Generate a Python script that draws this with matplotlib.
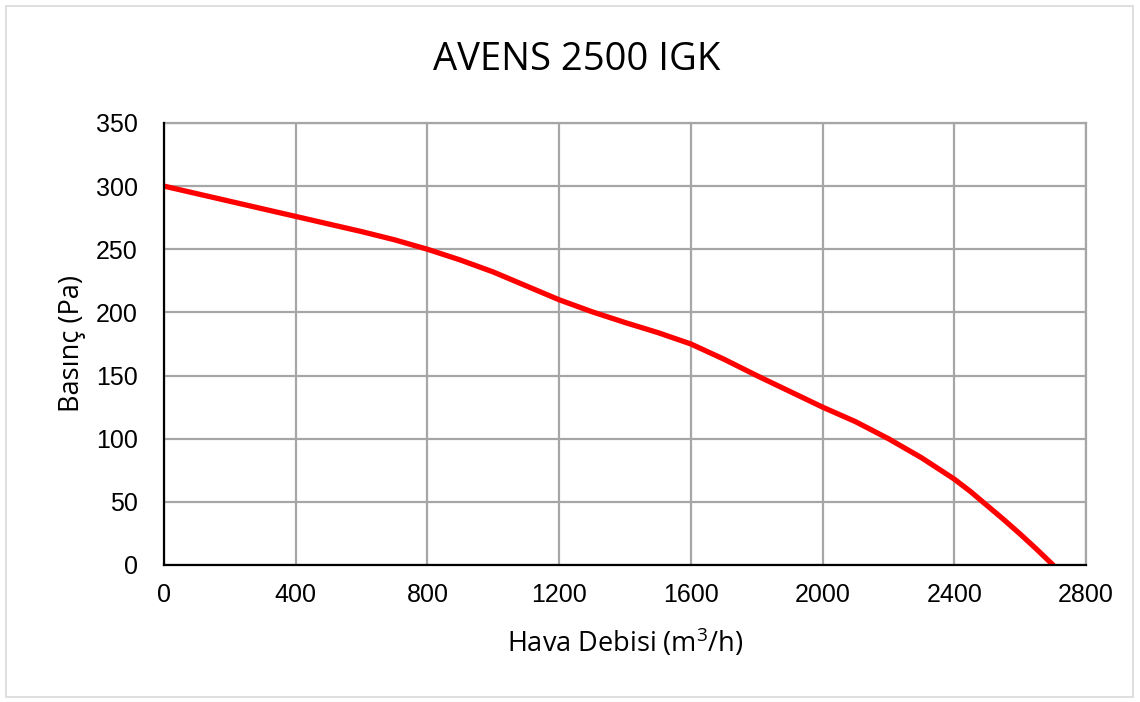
import matplotlib.pyplot as plt
from matplotlib.patches import Rectangle

# Fan curve
airflow = [0, 100, 200, 300, 400, 500, 600, 700, 800, 900, 1000, 1100, 1200,
           1300, 1400, 1500, 1600, 1700, 1800, 1900, 2000, 2100, 2200, 2300,
           2400, 2450, 2500, 2550, 2600, 2650, 2700]
pressure = [300, 294, 288, 282, 276, 270, 264, 257.5, 250, 241.5, 232, 221, 210,
            200.5, 192, 184, 175, 163, 150, 137.5, 125, 113.5, 100, 85, 68,
            58, 47, 36, 24.5, 12.5, 0]

x_ticks = [0, 400, 800, 1200, 1600, 2000, 2400, 2800]
y_ticks = [0, 50, 100, 150, 200, 250, 300, 350]

plt.rcParams['font.family'] = ['Liberation Sans', 'DejaVu Sans']
plt.rcParams['mathtext.default'] = 'regular'
label_font = ['Open Sans', 'DejaVu Sans']

fig = plt.figure(figsize=(11.4, 7.02), dpi=100)
ax = fig.add_axes([0.1439, 0.1952, 0.8087, 0.6296])

ax.plot(airflow, pressure, color='#FF0000', linewidth=3.8,
        solid_capstyle='round', solid_joinstyle='round', zorder=3)

ax.set_xlim(0, 2800)
ax.set_ylim(0, 350)
ax.set_xticks(x_ticks)
ax.set_yticks(y_ticks)
ax.grid(True, color='#A6A6A6', linewidth=1.6)
ax.set_axisbelow(True)

for side in ['top', 'right']:
    ax.spines[side].set_color('#A6A6A6')
    ax.spines[side].set_linewidth(1.6)
for side in ['left', 'bottom']:
    ax.spines[side].set_color('black')
    ax.spines[side].set_linewidth(1.6)
    ax.spines[side].set_zorder(4)

ax.tick_params(axis='both', length=0, labelsize=18)
ax.tick_params(axis='x', pad=13)
ax.tick_params(axis='y', pad=19)

fig.text(577 / 1140, 1 - 60 / 702, 'AVENS 2500 IGK', fontsize=27.5,
         ha='center', va='center', family=label_font)
ax.set_xlabel('Hava Debisi (m$^3$/h)', fontsize=19.5, labelpad=14, family=label_font)
ax.set_ylabel('Basınç (Pa)', fontsize=19.5, labelpad=7, family=label_font)

# light outer chart border
fig.patches.append(Rectangle((6 / 1140, 5 / 702), 1127 / 1140, 691 / 702,
                             transform=fig.transFigure, fill=False,
                             edgecolor='#D9D9D9', linewidth=1.2))

fig.savefig('out.png', dpi=100)
